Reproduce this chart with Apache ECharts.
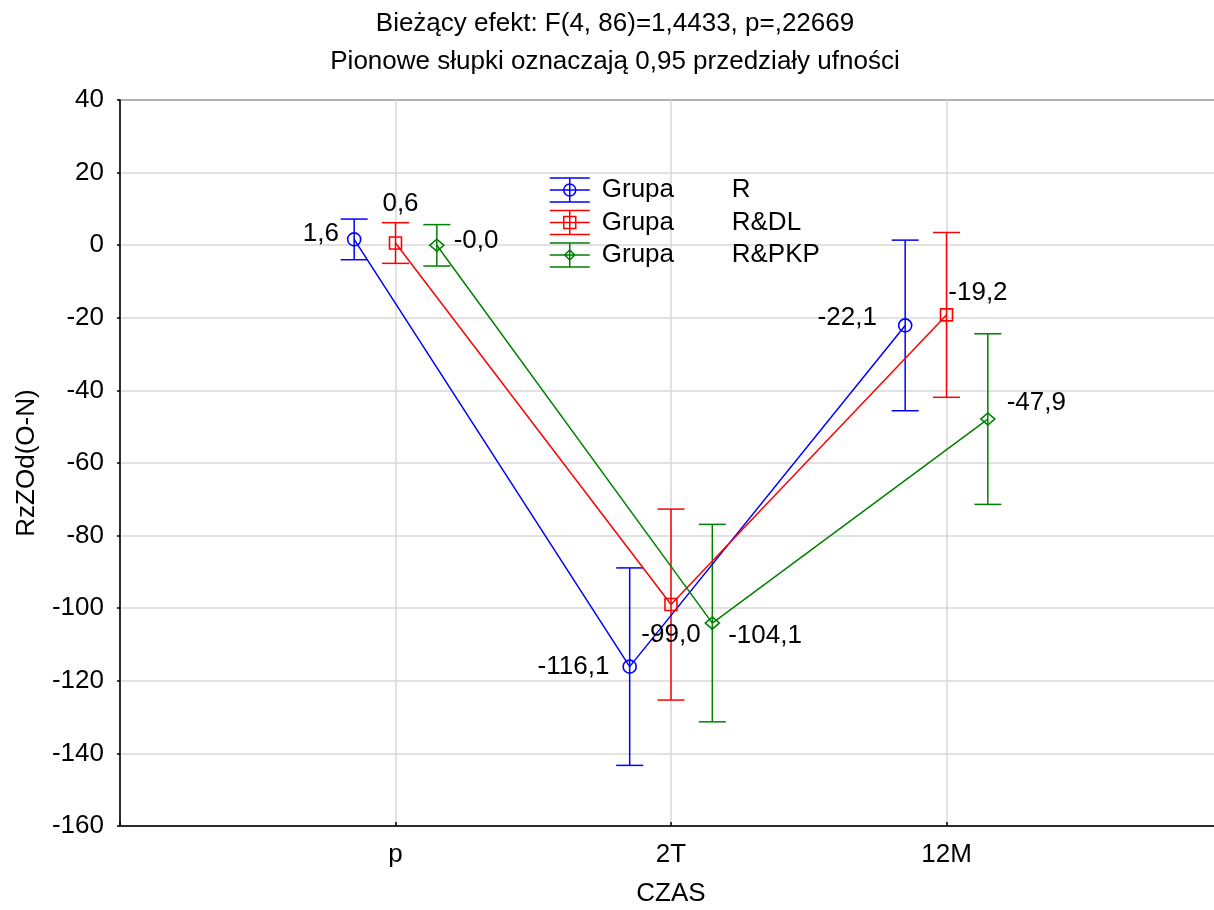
<!DOCTYPE html>
<html>
<head>
<meta charset="utf-8">
<script src="https://cdn.jsdelivr.net/npm/echarts@6/dist/echarts.min.js"></script>
<style>
  html, body { margin: 0; padding: 0; background: #fff; }
  #chart { width: 1214px; height: 910px; }
</style>
</head>
<body>
<div id="chart"></div>
<script>
// Measurement times (x positions 1, 2, 3 on the value axis)
const categories = ['p', '2T', '12M'];
const groups = ['R', 'R&DL', 'R&PKP'];

// Group means of RzZOd(O-N) at each time
const meanR     = [1.6, -116.1, -22.1];
const meanRDL   = [0.6, -99.0, -19.2];
const meanRPKP  = [-0.03, -104.1, -47.9];

// Half-widths of the 0.95 confidence intervals
const ciR    = [5.6, 27.2, 23.5];
const ciRDL  = [5.6, 26.3, 22.7];
const ciRPKP = [5.7, 27.2, 23.5];

const yTicks = [-160, -140, -120, -100, -80, -60, -40, -20, 0, 20, 40];

const FONT = "'Liberation Sans', Arial, sans-serif";
const FS = 26;
const colors = ['#0000ff', '#ff0000', '#008000'];
const offsets = [-0.15, 0, 0.15];
const means = [meanR, meanRDL, meanRPKP];
const cis = [ciR, ciRDL, ciRPKP];
const symbols = ['circle', 'rect', 'diamond'];
const symbolSizes = [13, 12, [14, 12]];

// per-point label placement around each marker
const labelPlacement = [
  [ {position: 'left', distance: 8, offset: [0, -6]},
    {position: 'left', distance: 13, offset: [0, 0]},
    {position: 'left', distance: 21, offset: [0, -8]} ],
  [ {position: 'top', distance: 19, offset: [5, 0]},
    {position: 'bottom', distance: 10, offset: [0, 0]},
    {position: 'right', distance: 0, offset: [-5, -22]} ],
  [ {position: 'right', distance: 9, offset: [0, -4]},
    {position: 'right', distance: 8, offset: [0, 13]},
    {position: 'right', distance: 11, offset: [0, -16]} ]
];

function fmt(v) { return v.toFixed(1).replace('.', ','); }

// legend icons: error bar caps + mean marker, drawn in a 40x24 box
const bars = 'M0 0H40 M0 12H40 M0 24H40 M20 0V24 ';
const legendIcons = [
  'path://' + bars + 'M26 12A6 6 0 1 1 14 12A6 6 0 1 1 26 12Z',
  'path://' + bars + 'M14 6H26V18H14Z',
  'path://' + bars + 'M20 7L25 12L20 17L15 12Z'
];

function errorBarRenderer(color) {
  return function (params, api) {
    const x = api.value(0);
    const top = api.coord([x, api.value(2)]);
    const bot = api.coord([x, api.value(1)]);
    const hw = 13.5;
    const style = { stroke: color, lineWidth: 1.5, fill: null };
    return {
      type: 'group',
      children: [
        { type: 'line', shape: { x1: top[0], y1: top[1], x2: bot[0], y2: bot[1] }, style },
        { type: 'line', shape: { x1: top[0] - hw, y1: top[1], x2: top[0] + hw, y2: top[1] }, style },
        { type: 'line', shape: { x1: bot[0] - hw, y1: bot[1], x2: bot[0] + hw, y2: bot[1] }, style }
      ]
    };
  };
}

const series = [];
groups.forEach(function (g, gi) {
  const color = colors[gi];
  series.push({
    type: 'custom',
    name: g + ' CI',
    renderItem: errorBarRenderer(color),
    encode: { x: 0, y: [1, 2] },
    data: categories.map(function (c, ci) {
      const m = means[gi][ci], h = cis[gi][ci];
      return [ci + 1 + offsets[gi], m - h, m + h];
    }),
    z: 2,
    silent: true
  });
  series.push({
    type: 'line',
    name: g,
    symbol: symbols[gi],
    symbolSize: symbolSizes[gi],
    lineStyle: { color: color, width: 1.5 },
    itemStyle: { color: 'rgba(0,0,0,0)', borderColor: color, borderWidth: 1.6 },
    data: categories.map(function (c, ci) {
      const lp = labelPlacement[gi][ci];
      return {
        value: [ci + 1 + offsets[gi], means[gi][ci]],
        label: { show: true, position: lp.position, distance: lp.distance, offset: lp.offset }
      };
    }),
    label: {
      show: true,
      color: '#000',
      fontFamily: FONT,
      fontSize: FS,
      formatter: function (p) { return fmt(p.value[1]); }
    },
    z: 3,
    animation: false
  });
});

const chart = echarts.init(document.getElementById('chart'), null, { renderer: 'canvas' });
chart.setOption({
  animation: false,
  backgroundColor: '#fff',
  title: {
    text: 'Bieżący efekt: F(4, 86)=1,4433, p=,22669\nPionowe słupki oznaczają 0,95 przedziały ufności',
    left: 615,
    top: 5,
    textAlign: 'center',
    padding: 0,
    textStyle: { fontFamily: FONT, fontSize: FS, fontWeight: 'normal', color: '#000', lineHeight: 38 }
  },
  legend: {
    orient: 'vertical',
    left: 549,
    top: 177,
    padding: 0,
    itemWidth: 40,
    itemHeight: 24,
    itemGap: 6.5,
    symbolKeepAspect: true,
    data: groups.map(function (g, gi) {
      return {
        name: g,
        icon: legendIcons[gi],
        itemStyle: { color: 'rgba(0,0,0,0)', borderColor: colors[gi], borderWidth: 1.5 }
      };
    }),
    formatter: function (name) { return '{a|Grupa}{b|' + name + '}'; },
    textStyle: {
      fontFamily: FONT, fontSize: FS, color: '#000', lineHeight: 24,
      rich: {
        a: { fontFamily: FONT, fontSize: FS, width: 130, padding: [0, 0, 0, 7] },
        b: { fontFamily: FONT, fontSize: FS }
      }
    }
  },
  grid: {
    left: 120, width: 1102, top: 100, height: 726,
    outerBoundsMode: 'none',
    containLabel: false,
    show: true, borderColor: '#000', borderWidth: 1.5, backgroundColor: 'rgba(0,0,0,0)'
  },
  xAxis: {
    type: 'value',
    min: 0, max: 4, interval: 1,
    name: 'CZAS',
    nameLocation: 'middle',
    nameGap: 55,
    nameTextStyle: { fontFamily: FONT, fontSize: FS, color: '#000' },
    axisLine: { show: true, onZero: false, lineStyle: { color: '#000', width: 1.5 } },
    axisTick: { show: true, inside: true, length: 4, lineStyle: { color: '#000', width: 1.5 } },
    axisLabel: {
      fontFamily: FONT, fontSize: FS, color: '#000', margin: 16,
      formatter: function (v) { return categories[v - 1] || ''; }
    },
    splitLine: { show: true, lineStyle: { color: '#d8d8d8', width: 1.5 } }
  },
  yAxis: {
    type: 'value',
    min: yTicks[0], max: yTicks[yTicks.length - 1], interval: 20,
    name: 'RzZOd(O-N)',
    nameLocation: 'middle',
    nameGap: 80,
    nameTextStyle: { fontFamily: FONT, fontSize: FS, color: '#000' },
    axisLine: { show: true, lineStyle: { color: '#000', width: 1.5 } },
    axisTick: { show: true, inside: false, length: 3, lineStyle: { color: '#000', width: 1.5 } },
    axisLabel: { fontFamily: FONT, fontSize: FS, color: '#000', margin: 16 },
    splitLine: { show: true, lineStyle: { color: '#d8d8d8', width: 1.5 } }
  },
  series: series
});
</script>
</body>
</html>
